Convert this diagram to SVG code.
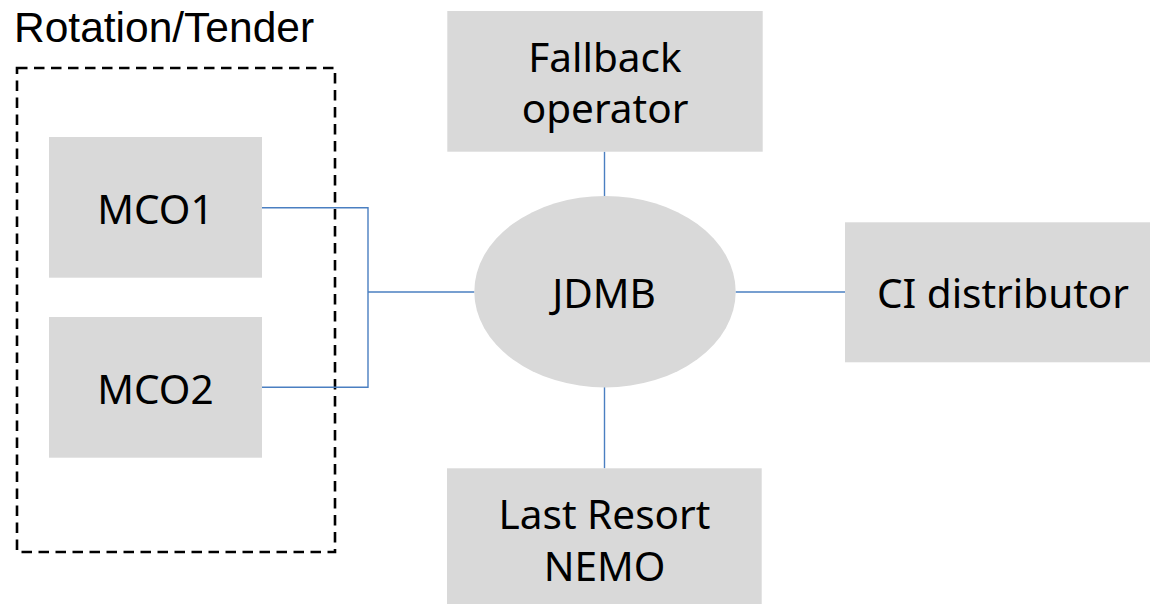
<svg xmlns="http://www.w3.org/2000/svg" width="1150" height="604" viewBox="0 0 1150 604">
<style>
.box{fill:#d9d9d9;}
.lbl{font-family:"Noto Sans","Open Sans","DejaVu Sans",sans-serif;font-size:40.5px;fill:#000;text-anchor:middle;}
.conn{fill:none;stroke:#4a7fc1;stroke-width:1.4;}
.title{font-family:"Liberation Sans",Arial,sans-serif;font-size:42.5px;fill:#000;}
</style>
<rect width="1150" height="604" fill="#fff"/>
<g id="group-rotation">
<rect x="17" y="68" width="318" height="484" fill="none" stroke="#000" stroke-width="2.6" stroke-dasharray="10.5 6.5"/>
<text class="title" x="14" y="42">Rotation/Tender</text>
</g>
<g id="connectors">
<polyline class="conn" points="262,207.7 368,207.7 368,387.3 262,387.3"/>
<line class="conn" x1="368" y1="292" x2="474.5" y2="292"/>
<line class="conn" x1="735.5" y1="292" x2="845" y2="292"/>
<line class="conn" x1="604.5" y1="151.7" x2="604.5" y2="196"/>
<line class="conn" x1="604.5" y1="387" x2="604.5" y2="468.3"/>
</g>
<g id="node-mco1">
<rect class="box" x="49" y="137" width="213" height="140.7"/>
<text class="lbl" x="155.5" y="224">MCO1</text>
</g>
<g id="node-mco2">
<rect class="box" x="49" y="317" width="213" height="140.7"/>
<text class="lbl" x="155.5" y="404">MCO2</text>
</g>
<g id="node-fallback">
<rect class="box" x="447.3" y="11" width="315.4" height="140.7"/>
<text class="lbl" x="605" y="72">Fallback</text>
<text class="lbl" x="605" y="123.3">operator</text>
</g>
<g id="node-jdmb">
<ellipse class="box" cx="605" cy="291.7" rx="130.7" ry="95.7"/>
<text class="lbl" x="604" y="307.7">JDMB</text>
</g>
<g id="node-ci">
<rect class="box" x="845" y="222.3" width="305" height="140"/>
<text class="lbl" x="1003" y="308.3">CI distributor</text>
</g>
<g id="node-lastresort">
<rect class="box" x="447" y="468.3" width="314.7" height="140"/>
<text class="lbl" x="604.5" y="529.3">Last Resort</text>
<text class="lbl" x="604.5" y="581">NEMO</text>
</g>
</svg>
